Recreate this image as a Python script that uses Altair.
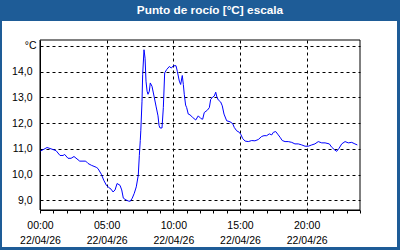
import altair as alt
import pandas as pd

title_text = "Punto de rocío [°C] escala"
date_label = "22/04/26"

hours = [0.00,0.53,0.98,1.20,1.50,1.73,1.85,2.10,2.33,2.55,2.98,3.43,3.60,3.85,4.22,4.35,4.60,4.78,4.97,
         5.12,5.33,5.48,5.63,5.78,6.00,6.13,6.25,6.45,6.62,6.77,6.92,7.07,7.22,7.37,7.45,7.52,7.56,7.65,
         7.70,7.80,7.88,7.95,8.03,8.10,8.20,8.27,8.40,8.55,8.70,8.85,8.93,9.00,9.15,9.25,9.35,9.50,9.70,
         9.85,10.00,10.20,10.30,10.45,10.55,10.67,10.75,10.82,10.92,11.00,11.12,11.25,11.45,11.68,11.87,
         12.08,12.20,12.32,12.55,12.70,12.80,12.95,13.07,13.18,13.27,13.37,13.55,13.67,13.80,14.00,14.25,
         14.45,14.57,14.75,14.95,15.07,15.20,15.38,15.62,15.88,16.12,16.37,16.63,16.80,17.00,17.20,17.38,
         17.50,17.68,17.87,18.00,18.17,18.38,18.62,18.88,19.12,19.37,19.63,19.88,20.12,20.38,20.62,20.87,
         21.13,21.38,21.70,21.88,22.07,22.25,22.43,22.63,22.88,23.12,23.38,23.62,23.80]
dew = [10.90,11.05,10.97,10.93,10.74,10.74,10.78,10.63,10.63,10.70,10.52,10.52,10.43,10.36,10.28,10.23,10.01,9.78,9.59,
       9.51,9.43,9.32,9.40,9.65,9.58,9.40,9.08,9.01,8.97,8.96,9.08,9.27,9.52,9.97,10.74,11.32,11.70,12.85,
       13.88,14.85,14.52,13.63,13.24,13.12,13.24,13.56,13.43,13.05,12.66,12.28,11.90,11.81,11.81,12.60,13.95,14.08,14.20,
       14.14,14.23,14.23,14.01,13.63,13.50,13.85,13.50,13.12,12.70,12.60,12.35,12.32,12.22,12.12,12.28,
       12.17,12.15,12.41,12.50,12.60,12.92,13.01,13.05,13.20,13.01,12.90,12.82,12.67,12.35,12.09,12.05,
       11.98,11.83,11.70,11.64,11.55,11.40,11.30,11.28,11.32,11.31,11.36,11.48,11.51,11.51,11.58,11.54,
       11.64,11.67,11.54,11.45,11.32,11.28,11.28,11.25,11.19,11.19,11.15,11.10,11.10,11.15,11.19,11.28,
       11.23,11.23,11.19,11.06,10.97,10.90,11.02,11.19,11.28,11.23,11.25,11.19,11.15]

y_ticks = [9, 10, 11, 12, 13, 14, 15]
x_ticks = list(range(0, 25))

df = pd.DataFrame({"h": hours, "v": dew})

BLUE = "#1e5c97"
FONT = "Liberation Sans"

x_scale = alt.Scale(domain=[0, 24], nice=False, zero=False)
y_scale = alt.Scale(domain=[8.62, 15.23], nice=False, zero=False)

x_axis = alt.Axis(
    values=x_ticks, title=None, grid=True,
    gridColor="black", gridDash=[3, 3], gridWidth=1,
    gridOpacity={"condition": {"test": "datum.value % 5 == 0 && datum.value > 0 && datum.value < 24", "value": 1}, "value": 0},
    domainColor="black", domainWidth=1,
    ticks=True, tickColor="black", tickSize=3, tickWidth=1,
    labelExpr=f"datum.value % 5 == 0 && datum.value < 24 ? [(datum.value < 10 ? '0' : '') + datum.value + ':00', '{date_label}'] : ''",
    labelFont=FONT, labelFontSize=10.5, labelColor="black", labelLineHeight=15,
    labelPadding=7, labelBaseline="top", labelOverlap=False, labelFlush=False,
)
y_axis = alt.Axis(
    values=y_ticks, title=None, grid=True,
    gridColor="black", gridDash=[3, 3], gridWidth=1,
    domainColor="black", domainWidth=1, ticks=False,
    labelExpr="datum.value == 15 ? '°C' : replace(format(datum.value, '.1f'), '.', ',')",
    labelFont=FONT, labelFontSize=10.5, labelColor="black",
    labelPadding={"condition": {"test": "datum.value == 15", "value": 4}, "value": 8},
    labelOverlap=False,
)

line = alt.Chart(df).mark_line(color="#0000ff", strokeWidth=1, interpolate="linear").encode(
    x=alt.X("h:Q", scale=x_scale, axis=x_axis),
    y=alt.Y("v:Q", scale=y_scale, axis=y_axis),
)

one = alt.Data(values=[{}])
frame = alt.Chart(one).mark_rect(fill=None, stroke="black", strokeWidth=1).encode(
    x=alt.value(0), x2=alt.value(320), y=alt.value(0), y2=alt.value(170))
bar = alt.Chart(one).mark_rect(color=BLUE).encode(
    x=alt.value(-40), x2=alt.value(360), y=alt.value(-40), y2=alt.value(-19))
left = alt.Chart(one).mark_rect(color=BLUE).encode(
    x=alt.value(-40), x2=alt.value(-38), y=alt.value(-40), y2=alt.value(210))
right = alt.Chart(one).mark_rect(color=BLUE).encode(
    x=alt.value(357), x2=alt.value(360), y=alt.value(-40), y2=alt.value(210))
bottom = alt.Chart(one).mark_rect(color=BLUE).encode(
    x=alt.value(-40), x2=alt.value(360), y=alt.value(207), y2=alt.value(210))
title = alt.Chart(one).mark_text(
    text=title_text, color="white", font=FONT, fontSize=11.8, fontWeight="bold",
    align="center", baseline="alphabetic").encode(x=alt.value(170), y=alt.value(-26))

chart = alt.layer(line, frame, bar, left, right, bottom, title).properties(
    width=320, height=170,
    padding={"left": 40, "top": 40, "right": 40, "bottom": 40},
    autosize=alt.AutoSizeParams(type="none"),
    background="white",
).configure_view(stroke=None)

chart.save("out.html", embed_options={"renderer": "svg", "actions": False})
